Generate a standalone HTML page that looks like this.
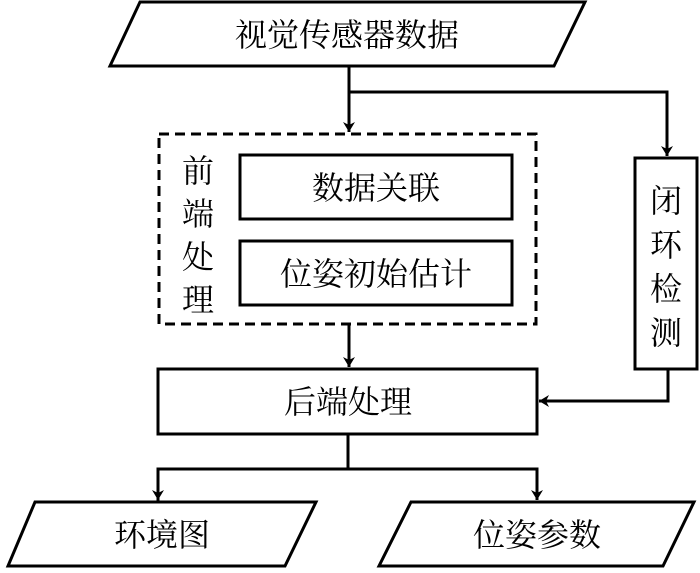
<!DOCTYPE html>
<html><head><meta charset="utf-8"><style>
html,body{margin:0;padding:0;background:#fff;}
svg text{font-family:"Liberation Serif","Noto Serif CJK SC","Noto Sans CJK SC",serif;font-size:32px;fill:#000;}
</style></head><body>
<svg width="700" height="568" viewBox="0 0 700 568" xmlns="http://www.w3.org/2000/svg">
<defs><marker id="a" markerWidth="10" markerHeight="12" refX="10" refY="6" orient="auto" markerUnits="userSpaceOnUse"><path d="M0,0 L10,6 L0,12 L3,6 Z" fill="#000"/></marker></defs>
<g fill="none" stroke="#000" stroke-width="3">
<polygon points="140,2 585,2 554,66 110,66" fill="#fff"/>
<line x1="349" y1="66" x2="349" y2="132" marker-end="url(#a)"/>
<polyline points="349,92 667,92 667,156" marker-end="url(#a)"/>
<rect x="159" y="134" width="377" height="190" stroke-dasharray="10,6"/>
<rect x="240" y="155" width="272" height="64"/>
<rect x="240" y="241" width="272" height="64"/>
<rect x="635" y="158" width="62" height="211"/>
<line x1="349" y1="324" x2="349" y2="367" marker-end="url(#a)"/>
<rect x="158" y="369" width="379" height="65"/>
<polyline points="668,369 668,401 539,401" marker-end="url(#a)"/>
<polyline points="348,434 348,469"/>
<polyline points="158,502 158,469 537,469 537,500" />
<line x1="158" y1="480" x2="158" y2="500" marker-end="url(#a)"/>
<line x1="537" y1="480" x2="537" y2="500" marker-end="url(#a)"/>
<polygon points="35,502 316,502 285,566 8,566"/>
<polygon points="411,502 694,502 663,566 379,566"/>
</g>
<text x="347" y="46" text-anchor="middle">视觉传感器数据</text>
<text x="376" y="199" text-anchor="middle">数据关联</text>
<text x="376" y="285" text-anchor="middle">位姿初始估计</text>
<text x="198" y="182" text-anchor="middle">前</text>
<text x="198" y="225" text-anchor="middle">端</text>
<text x="198" y="268" text-anchor="middle">处</text>
<text x="198" y="311" text-anchor="middle">理</text>
<text x="666" y="212" text-anchor="middle">闭</text>
<text x="666" y="256" text-anchor="middle">环</text>
<text x="666" y="300" text-anchor="middle">检</text>
<text x="666" y="344" text-anchor="middle">测</text>
<text x="348" y="413" text-anchor="middle">后端处理</text>
<text x="162" y="546" text-anchor="middle">环境图</text>
<text x="537" y="546" text-anchor="middle">位姿参数</text>
</svg>
</body></html>
